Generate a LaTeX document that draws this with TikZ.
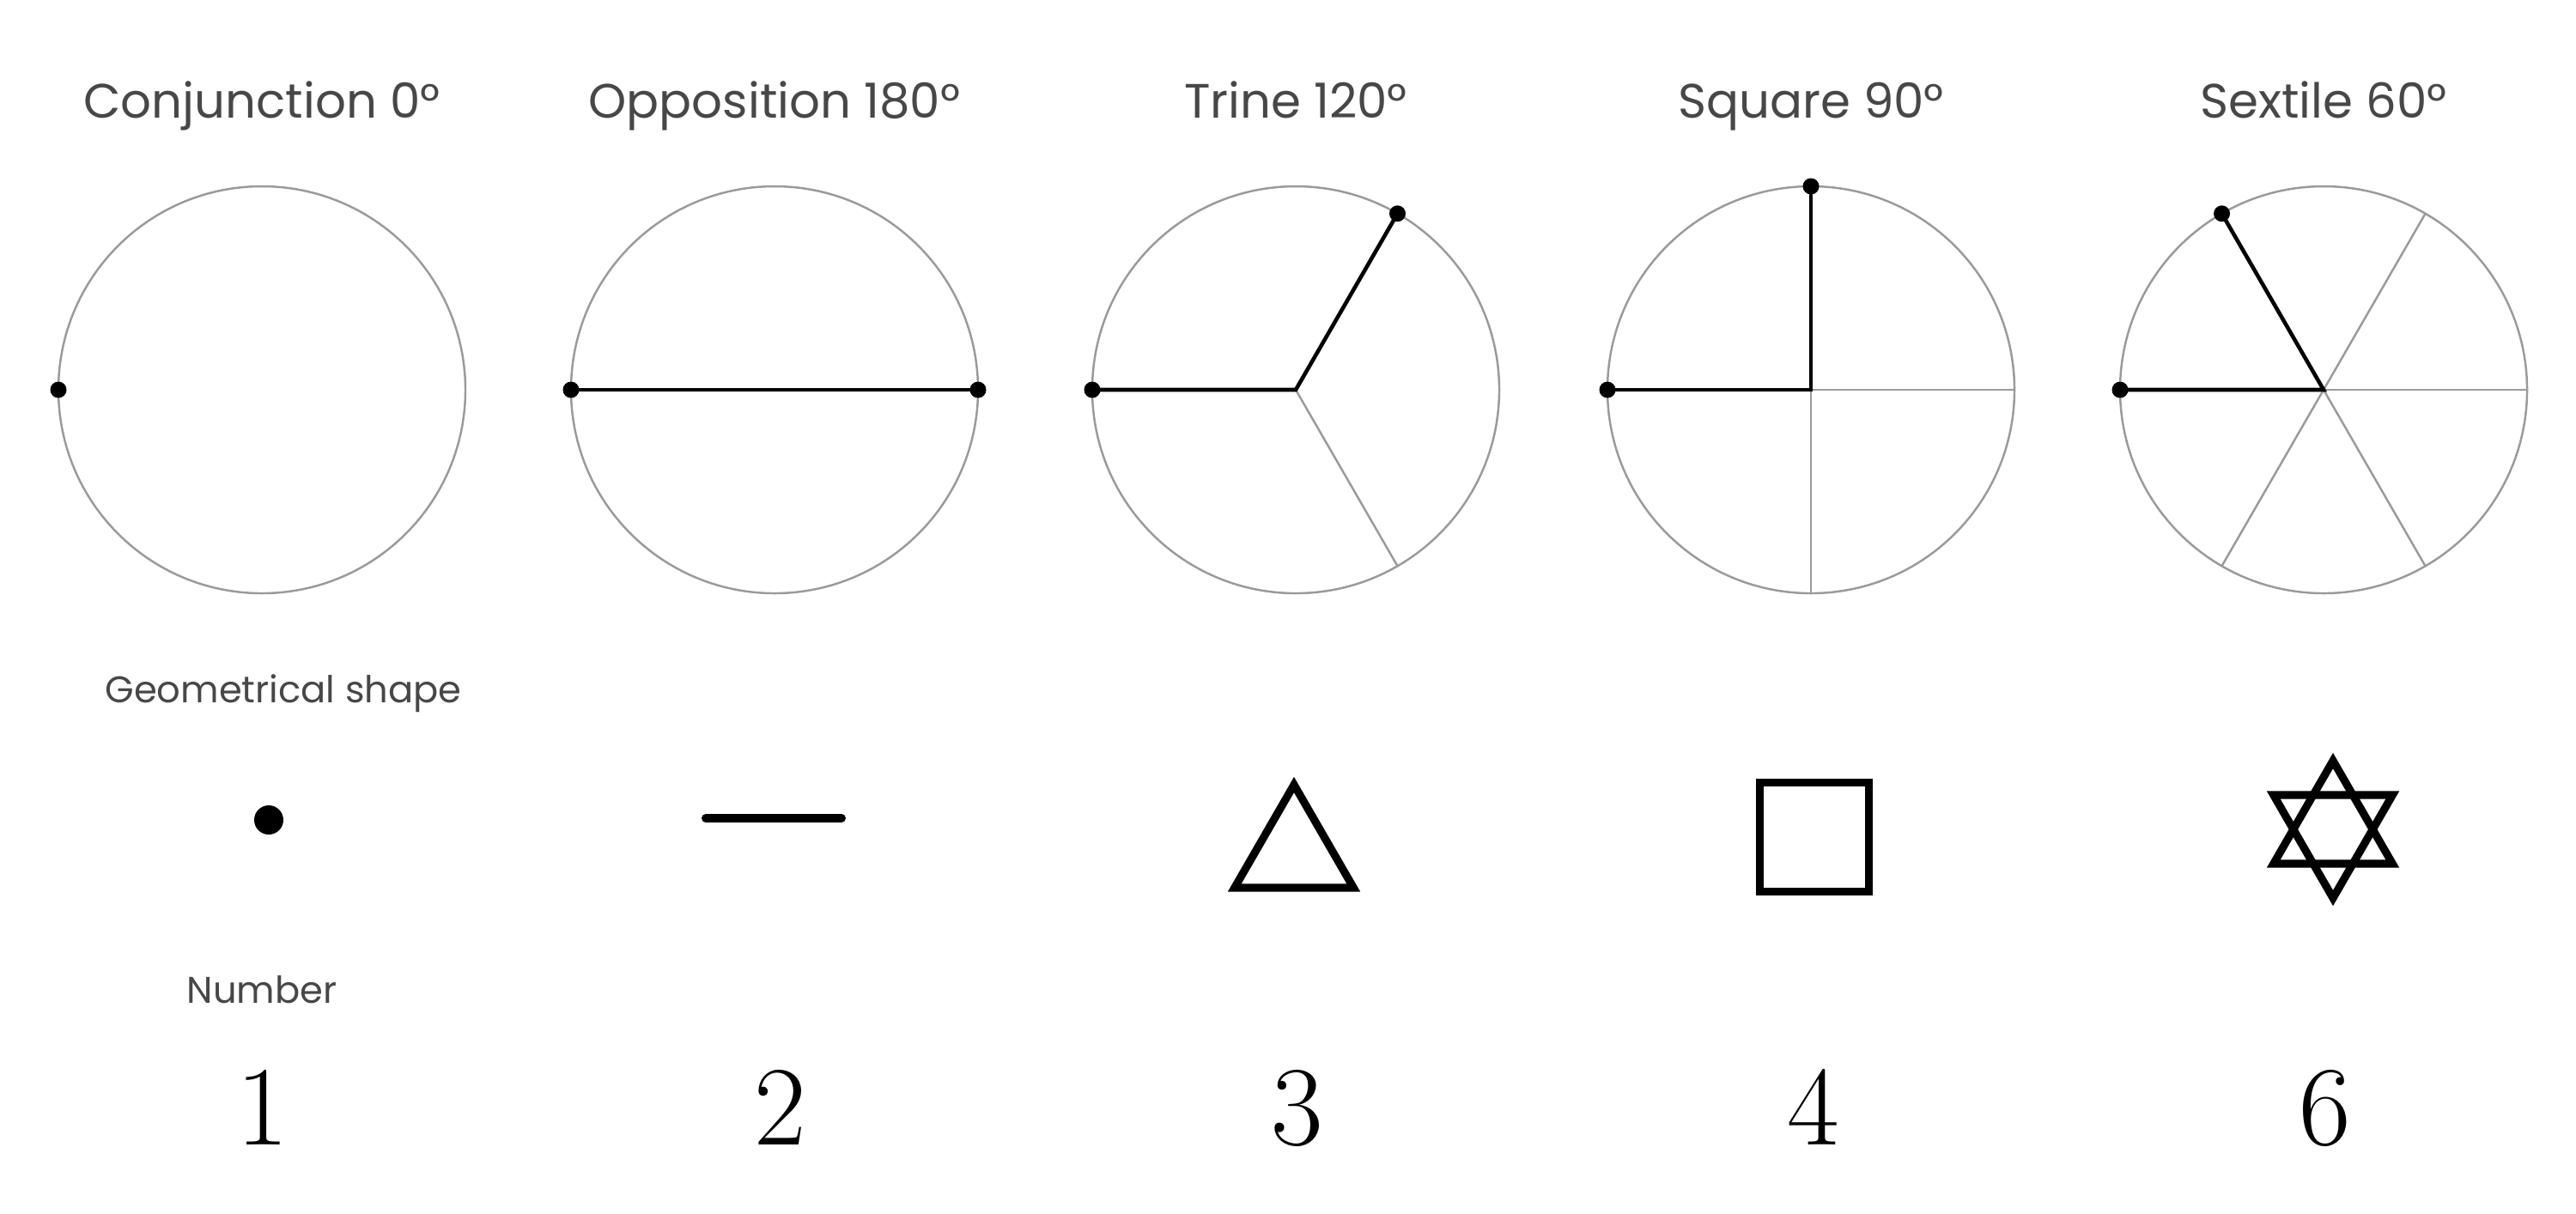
\documentclass[tikz,border=0pt]{standalone}
\usepackage{fontspec}
\newfontfamily\labelfont{Poppins}
\usetikzlibrary{positioning,shapes.geometric}
\definecolor{labelgray}{HTML}{474747}
\definecolor{ringgray}{HTML}{9A9A9A}

\begin{document}
\begin{tikzpicture}[
			ring/.style={circle, draw=ringgray, line width=0.7pt, minimum size=4.74cm, inner sep=0pt, outer sep=0pt},
			title/.style={font=\labelfont\fontsize{16}{18}\selectfont, text=labelgray},
			caption/.style={font=\labelfont\fontsize{12.3}{14}\selectfont, text=labelgray, anchor=base},
			aspect/.style={line width=1.3pt, black},
			spoke/.style={draw=ringgray, line width=0.7pt},
			planet/.style={circle, fill=black, inner sep=0pt, minimum size=0.19cm},
			glyph/.style={draw=black, line width=2.6pt, inner sep=0pt, outer sep=0pt},
			numeral/.style={font=\fontsize{37.5}{40}\selectfont, anchor=base}
		]
		\useasboundingbox (0,0) rectangle (30,-14.13);

		% Circles
		\node[ring] (conj) at (3.05,-4.54) {};
		\node[ring, right=1.23cm of conj] (opp) {};
		\node[ring, right=1.33cm of opp] (tri) {};
		\node[ring, right=1.26cm of tri] (sq) {};
		\node[ring, right=1.23cm of sq] (sext) {};

		% Titles
		\node[title, above=0.8cm of conj, anchor=base] (tconj) {Conjunction 0°};
		\node[title, above=0.8cm of opp, anchor=base] (topp) {Opposition 180°};
		\node[title, above=0.8cm of tri, anchor=base] (ttri) {Trine 120°};
		\node[title, above=0.8cm of sq, anchor=base] (tsq) {Square 90°};
		\node[title, above=0.8cm of sext, anchor=base] (tsext) {Sextile 60°};

		% Spokes
		\draw[spoke] (tri.center) -- (tri.-60);
		\draw[spoke] (sq.center) -- (sq.east);
		\draw[spoke] (sq.center) -- (sq.south);
		\foreach \a in {60,0,-60,-120}
			\draw[spoke] (sext.center) -- (sext.\a);

		% Aspects
		\draw[aspect] (opp.west) -- (opp.east);
		\draw[aspect] (tri.west) -- (tri.center) -- (tri.60);
		\draw[aspect] (sq.west) -- (sq.center) -- (sq.north);
		\draw[aspect] (sext.west) -- (sext.center) -- (sext.120);

		% Planets
		\node[planet] (p1) at (conj.west) {};
		\node[planet] (p2) at (opp.west) {};
		\node[planet] (p3) at (opp.east) {};
		\node[planet] (p4) at (tri.west) {};
		\node[planet] (p5) at (tri.60) {};
		\node[planet] (p6) at (sq.west) {};
		\node[planet] (p7) at (sq.north) {};
		\node[planet] (p8) at (sext.west) {};
		\node[planet] (p9) at (sext.120) {};

		% Geometrical shapes
		\node[caption] (shapes) at (3.3,-8.18) {Geometrical shape};
		\node[circle, fill=black, inner sep=0pt, minimum size=0.34cm] (g1) at (3.13,-9.55) {};
		\coordinate (g2) at (9.01,-9.53);
		\draw[line width=0.1cm, line cap=round] ([xshift=-0.79cm]g2) -- ([xshift=0.79cm]g2);
		\node[glyph, regular polygon, regular polygon sides=3, minimum size=1.6cm] (g3) at (15.07,-9.94) {};
		\node[glyph, rectangle, minimum size=1.27cm] (g4) at (21.13,-9.75) {};
		\node[glyph, regular polygon, regular polygon sides=3, minimum size=1.6cm] (g5) at (27.17,-9.66) {};
		\node[glyph, regular polygon, regular polygon sides=3, minimum size=1.6cm, shape border rotate=180] (g6) at (27.17,-9.66) {};

		% Numbers
		\node[caption] (number) at (3.05,-11.68) {Number};
		\node[numeral] (n1) at (3.06,-13.33) {1};
		\node[numeral] (n2) at (9.09,-13.33) {2};
		\node[numeral] (n3) at (15.11,-13.33) {3};
		\node[numeral] (n4) at (21.12,-13.33) {4};
		\node[numeral] (n6) at (27.08,-13.33) {6};
	\end{tikzpicture}
\end{document}
